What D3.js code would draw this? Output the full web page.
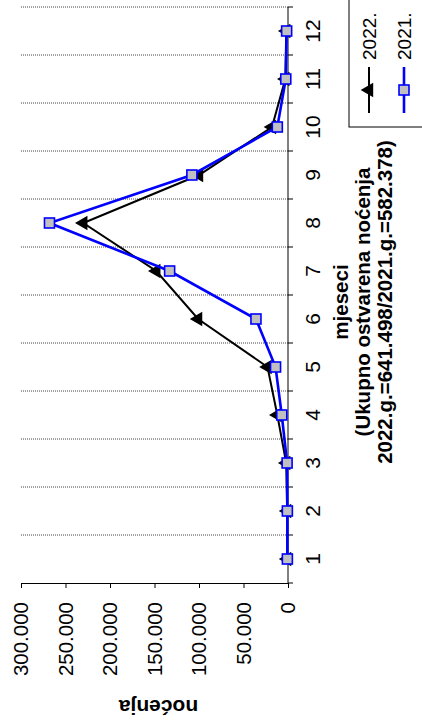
<!DOCTYPE html>
<html><head><meta charset="utf-8">
<script src="https://cdn.jsdelivr.net/npm/d3@7/dist/d3.min.js"></script>
<style>body{margin:0;background:#fff}svg{display:block}text{font-family:Arial,"Liberation Sans",sans-serif}</style>
</head><body>
<svg id="c" width="422" height="722"></svg>
<script>
const months = [1,2,3,4,5,6,7,8,9,10,11,12];
const series2022 = [1000,1000,2000,12000,23000,101000,148000,230000,100000,18000,3000,2000];
const series2021 = [700,700,1000,7000,14000,36000,133000,268000,108000,12000,2500,1500];
const valueTicks = [0,50000,100000,150000,200000,250000,300000];
const tickLabels = ["0","50.000","100.000","150.000","200.000","250.000","300.000"];
const seriesNames = ["2022.","2021."];
const valueTitle = "noćenja";
const catTitle = ["mjeseci","(Ukupno ostvarena noćenja","2022.g.=641.498/2021.g.=582.378)"];

const svg = d3.select("#c");
const g = svg.append("g").attr("transform","translate(0,722) rotate(-90)");

const x = d3.scaleBand().domain(months).range([139,715]);
const y = d3.scaleLinear().domain([0,300000]).range([288,21]);
const cx = m => x(m) + x.bandwidth()/2;

// gridlines at category boundaries
const bounds = months.map(m => x(m) + x.bandwidth());
g.selectAll("line.grid").data(bounds).enter().append("line")
  .attr("x1",d=>d).attr("x2",d=>d).attr("y1",y(300000)).attr("y2",y(0))
  .attr("stroke","#444").attr("stroke-width",1).attr("stroke-dasharray","1,1");

// value axis (left)
const yAxis = d3.axisLeft(y).tickValues(valueTicks).tickSize(5).tickPadding(14)
  .tickFormat((d,i)=>tickLabels[i]);
const ya = g.append("g").attr("transform","translate(139,0)").call(yAxis);
ya.select(".domain").attr("stroke","#000").attr("d","M-0.5,21V288.5");
ya.selectAll(".tick line").attr("stroke","#000");
ya.selectAll(".tick text").attr("font-size",20.5).attr("fill","#000").attr("font-family","Arial, 'Liberation Sans', sans-serif");

// category axis (bottom)
g.append("line").attr("x1",139).attr("x2",715).attr("y1",288).attr("y2",288).attr("stroke","#000");
g.selectAll("line.ctick").data([139].concat(bounds)).enter().append("line")
  .attr("x1",d=>d).attr("x2",d=>d).attr("y1",288).attr("y2",293).attr("stroke","#000");
g.selectAll("text.mlab").data(months).enter().append("text")
  .attr("x",d=>cx(d)).attr("y",313).attr("dy","0.35em").attr("text-anchor","middle")
  .attr("font-size",21).text(d=>d);

// titles
g.append("text").attr("transform",`translate(15,${(21+288)/2+4}) rotate(-90)`)
  .attr("text-anchor","middle").attr("dy","0.35em").attr("font-size",21).attr("font-weight","bold").text(valueTitle);
catTitle.forEach((t,i)=>{
  g.append("text").attr("x",420).attr("y",341+i*22).attr("dy","0.35em")
   .attr("text-anchor","middle").attr("font-size",20.5).attr("font-weight","bold").text(t);
});

// lines
const line = d3.line().x((d,i)=>cx(months[i])).y(d=>y(d));
g.append("path").datum(series2022).attr("d",line).attr("fill","none").attr("stroke","#000").attr("stroke-width",2);
g.selectAll("path.tri").data(series2022).enter().append("path")
  .attr("d",d3.symbol(d3.symbolTriangle,90)()).attr("transform",(d,i)=>`translate(${cx(months[i])},${y(d)})`)
  .attr("fill","#000");
g.append("path").datum(series2021).attr("d",line).attr("fill","none").attr("stroke","#0000ff").attr("stroke-width",2.6);
g.selectAll("rect.sq").data(series2021).enter().append("rect")
  .attr("x",(d,i)=>cx(months[i])-5).attr("y",d=>y(d)-5).attr("width",10).attr("height",10)
  .attr("fill","#c0c0c0").attr("stroke","#0000ff").attr("stroke-width",1.6);

// legend
g.append("rect").attr("x",595).attr("y",349).attr("width",140).attr("height",90)
  .attr("fill","#fff").attr("stroke","#000").attr("stroke-width",1);
const leg = [{v:369,c:"#000",t:seriesNames[0]},{v:404,c:"#0000ff",t:seriesNames[1]}];
leg.forEach((l,i)=>{
  g.append("line").attr("x1",609).attr("x2",655).attr("y1",l.v).attr("y2",l.v).attr("stroke",l.c).attr("stroke-width",i?2.6:2);
  if(i===0){
    g.append("path").attr("d",d3.symbol(d3.symbolTriangle,90)()).attr("transform",`translate(632,${l.v})`).attr("fill","#000");
  } else {
    g.append("rect").attr("x",627).attr("y",l.v-5).attr("width",10).attr("height",10)
     .attr("fill","#c0c0c0").attr("stroke","#0000ff").attr("stroke-width",1.6);
  }
  g.append("text").attr("x",662).attr("y",l.v).attr("dy","0.35em").attr("font-size",19).text(l.t);
});
</script>
</body></html>
